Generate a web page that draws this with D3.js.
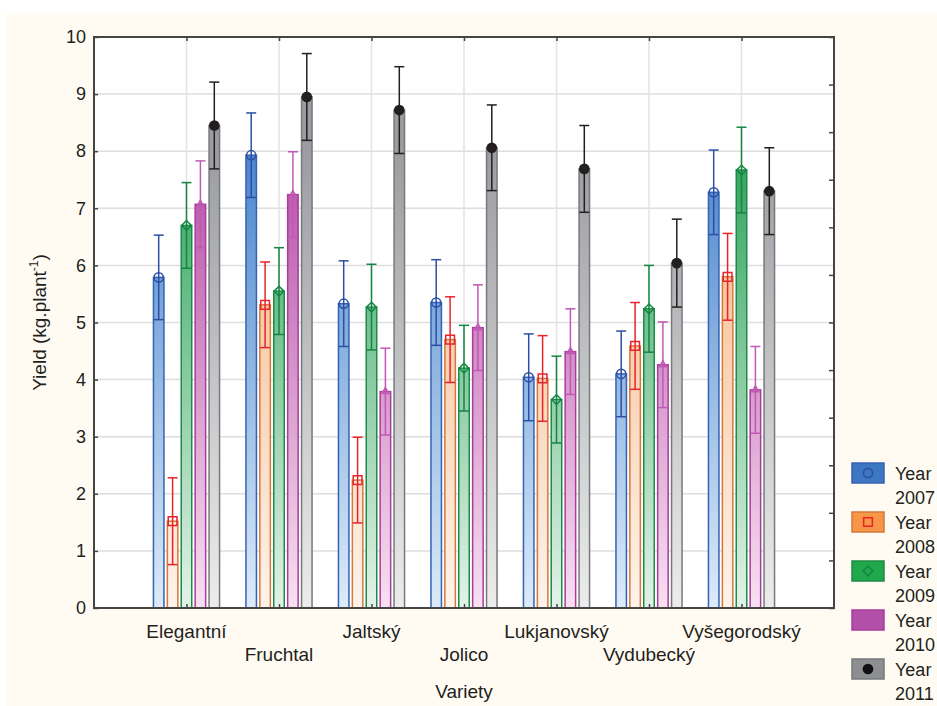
<!DOCTYPE html>
<html>
<head>
<meta charset="utf-8">
<script src="https://cdn.jsdelivr.net/npm/d3@7"></script>
<style>
  body { margin: 0; background: #fff; }
  svg text { font-family: "Liberation Sans", Arial, sans-serif; fill: #231f20; }
</style>
</head>
<body>
<div id="chart"></div>
<script>
// varieties and years
var varieties = ["Elegantní", "Fruchtal", "Jaltský", "Jolico", "Lukjanovský", "Vydubecký", "Vyšegorodský"];
var years = ["2007", "2008", "2009", "2010", "2011"];

// mean yield per variety, one array per year
var y2007 = [5.79, 7.93, 5.33, 5.35, 4.04, 4.10, 7.28];
var y2008 = [1.52, 5.31, 2.24, 4.70, 4.02, 4.59, 5.80];
var y2009 = [6.70, 5.55, 5.27, 4.20, 3.65, 5.24, 7.67];
var y2010 = [7.07, 7.24, 3.79, 4.91, 4.49, 4.26, 3.82];
var y2011 = [8.45, 8.95, 8.72, 8.06, 7.69, 6.04, 7.30];

// half-width of the error whiskers
var e2007 = [0.74, 0.74, 0.75, 0.75, 0.76, 0.75, 0.74];
var e2008 = [0.76, 0.75, 0.75, 0.75, 0.75, 0.76, 0.76];
var e2009 = [0.75, 0.76, 0.75, 0.75, 0.76, 0.76, 0.75];
var e2010 = [0.76, 0.75, 0.76, 0.75, 0.75, 0.75, 0.76];
var e2011 = [0.76, 0.76, 0.76, 0.75, 0.76, 0.77, 0.76];

var yTicks = [0, 1, 2, 3, 4, 5, 6, 7, 8, 9, 10];

var series = [
    {year: "2007", values: y2007, err: e2007,
     fill: "#3d77c2", stroke: "#3562b4", top: "#4a86cc", bottom: "#dcebf9", line: "#2c4ea6", marker: "circle"},
    {year: "2008", values: y2008, err: e2008,
     fill: "#f79646", stroke: "#d27a3e", top: "#f7b482", bottom: "#fef3ea", line: "#e8232a", marker: "square"},
    {year: "2009", values: y2009, err: e2009,
     fill: "#22a84c", stroke: "#1f8a48", top: "#2fa35c", bottom: "#e3f3e8", line: "#128640", marker: "diamond"},
    {year: "2010", values: y2010, err: e2010,
     fill: "#b24fa6", stroke: "#a93d9c", top: "#b64ea6", bottom: "#f8e0f1", line: "#c257b5", marker: "triangle"},
    {year: "2011", values: y2011, err: e2011,
     fill: "#8d8e92", stroke: "#77797c", top: "#9c9da1", bottom: "#ececec", line: "#231f20", marker: "dot"}
];

var width = 937, height = 706;
var pL = 94, pR = 834, pT = 37, pB = 608;

var svg = d3.select("#chart")
    .append("svg")
    .attr("width", width)
    .attr("height", height);

svg.append("rect")
    .attr("x", 7).attr("y", 13)
    .attr("width", width - 7).attr("height", height - 13)
    .attr("fill", "#fffbf3");

svg.append("rect")
    .attr("x", pL).attr("y", pT)
    .attr("width", pR - pL).attr("height", pB - pT)
    .attr("fill", "#fff");

var x = d3.scalePoint().domain(varieties).range([pL, pR]).padding(1);
var y = d3.scaleLinear().domain([0, 10]).range([pB, pT]);
var inner = d3.scaleBand().domain(years).range([-34.75, 34.75])
    .paddingInner(0.245).paddingOuter(0.1225);
var yRight = d3.scaleLinear().domain([0, 12]).range([pB, pT]);

// gradients
var defs = svg.append("defs");
series.forEach(function (s) {
    var g = defs.append("linearGradient")
        .attr("id", "grad" + s.year)
        .attr("gradientUnits", "userSpaceOnUse")
        .attr("x1", 0).attr("x2", 0)
        .attr("y1", y(0)).attr("y2", y(8));
    g.append("stop").attr("offset", "0%").attr("stop-color", s.bottom);
    g.append("stop").attr("offset", "100%").attr("stop-color", s.top);
});

// grid
svg.append("g")
    .selectAll("line")
    .data(yTicks.slice(1, -1))
    .enter()
    .append("line")
    .attr("x1", pL).attr("x2", pR)
    .attr("y1", function (d) { return y(d); })
    .attr("y2", function (d) { return y(d); })
    .attr("stroke", "#dedede")
    .attr("stroke-width", 1.5);

svg.append("g")
    .selectAll("line")
    .data(varieties)
    .enter()
    .append("line")
    .attr("x1", function (d) { return x(d); })
    .attr("x2", function (d) { return x(d); })
    .attr("y1", pT).attr("y2", pB)
    .attr("stroke", "#e3e3e3")
    .attr("stroke-width", 1.5);

// bars
var groups = svg.selectAll(".series")
    .data(series)
    .enter()
    .append("g")
    .attr("class", "series");

function rows(s) {
    return s.values.map(function (v, i) { return {s: s, v: v, e: s.err[i], cat: varieties[i]}; });
}

groups.selectAll("rect")
    .data(rows)
    .enter()
    .append("rect")
    .attr("x", function (d) { return x(d.cat) + inner(d.s.year); })
    .attr("y", function (d) { return y(d.v); })
    .attr("width", inner.bandwidth())
    .attr("height", function (d) { return y(0) - y(d.v); })
    .attr("fill", function (d) { return "url(#grad" + d.s.year + ")"; })
    .attr("stroke", function (d) { return d.s.stroke; })
    .attr("stroke-width", 1.5);

// error whiskers
var whisk = groups.selectAll(".err")
    .data(rows)
    .enter()
    .append("g")
    .attr("class", "err")
    .attr("transform", function (d) {
        return "translate(" + (x(d.cat) + inner(d.s.year) + inner.bandwidth() / 2) + ",0)";
    })
    .attr("stroke", function (d) { return d.s.line; })
    .attr("stroke-width", 1.5);

whisk.append("line")
    .attr("x1", 0).attr("x2", 0)
    .attr("y1", function (d) { return y(d.v + d.e); })
    .attr("y2", function (d) { return y(d.v - d.e); });
whisk.append("line")
    .attr("x1", -5).attr("x2", 5)
    .attr("y1", function (d) { return y(d.v + d.e); })
    .attr("y2", function (d) { return y(d.v + d.e); });
whisk.append("line")
    .attr("x1", -5).attr("x2", 5)
    .attr("y1", function (d) { return y(d.v - d.e); })
    .attr("y2", function (d) { return y(d.v - d.e); });

var symbols = {
    circle: d3.symbol().type(d3.symbolCircle).size(66)(),
    square: d3.symbol().type(d3.symbolSquare).size(76)(),
    diamond: d3.symbol().type(d3.symbolDiamond2).size(60)(),
    triangle: d3.symbol().type(d3.symbolTriangle2).size(34)(),
    dot: d3.symbol().type(d3.symbolCircle).size(90)()
};

whisk.append("path")
    .attr("d", function (d) { return symbols[d.s.marker]; })
    .attr("transform", function (d) { return "translate(0," + y(d.v) + ")"; })
    .attr("fill", function (d) { return d.s.marker == "dot" ? "#231f20" : "none"; })
    .attr("stroke-width", function (d) { return d.s.marker == "dot" ? 0 : 1.5; });

// frame and ticks
var frame = "#454545";
svg.append("rect")
    .attr("x", pL).attr("y", pT)
    .attr("width", pR - pL).attr("height", pB - pT)
    .attr("fill", "none")
    .attr("stroke", frame)
    .attr("stroke-width", 2);

var leftAxis = svg.append("g")
    .attr("transform", "translate(" + pL + ",0)")
    .call(d3.axisLeft(y).tickValues(yTicks).tickSize(-4).tickPadding(8));
leftAxis.select(".domain").remove();
leftAxis.selectAll("line").attr("stroke", frame).attr("stroke-width", 1.5);
leftAxis.selectAll("text").style("font-size", "18px").attr("fill", "#231f20");

var rightAxis = svg.append("g")
    .attr("transform", "translate(" + pR + ",0)")
    .call(d3.axisRight(yRight).ticks(12).tickSize(-5).tickFormat(""));
rightAxis.select(".domain").remove();
rightAxis.selectAll("line").attr("stroke", frame).attr("stroke-width", 1.5);

var topAxis = svg.append("g")
    .attr("transform", "translate(0," + pT + ")")
    .call(d3.axisTop(x).tickSize(-4).tickFormat(""));
topAxis.select(".domain").remove();
topAxis.selectAll("line").attr("stroke", frame).attr("stroke-width", 1.5);

var bottomAxis = svg.append("g")
    .attr("transform", "translate(0," + pB + ")")
    .call(d3.axisBottom(x).tickSize(-4).tickFormat(""));
bottomAxis.select(".domain").remove();
bottomAxis.selectAll("line").attr("stroke", frame).attr("stroke-width", 1.5);

// staggered category labels
svg.append("g")
    .selectAll("text")
    .data(varieties)
    .enter()
    .append("text")
    .attr("x", function (d) { return x(d); })
    .attr("y", function (d, i) { return i % 2 == 0 ? 638 : 661; })
    .attr("text-anchor", "middle")
    .style("font-size", "19px")
    .text(function (d) { return d; });

svg.append("text")
    .attr("x", (pL + pR) / 2)
    .attr("y", 698)
    .attr("text-anchor", "middle")
    .style("font-size", "19px")
    .text("Variety");

var yTitle = svg.append("text")
    .attr("transform", "translate(46," + ((pT + pB) / 2) + ") rotate(-90)")
    .attr("text-anchor", "middle")
    .style("font-size", "19px");
yTitle.append("tspan").text("Yield (kg.plant");
yTitle.append("tspan").attr("dy", -8).style("font-size", "12px").text("-1");
yTitle.append("tspan").attr("dy", 8).text(")");

// legend
var legend = svg.selectAll(".legend")
    .data(series)
    .enter()
    .append("g")
    .attr("class", "legend")
    .attr("transform", function (d, i) { return "translate(852," + (463 + i * 49) + ")"; });

legend.append("rect")
    .attr("width", 32).attr("height", 20)
    .attr("fill", function (d) { return d.fill; })
    .attr("stroke", function (d) { return d.stroke; })
    .attr("stroke-width", 1.5);

legend.filter(function (d) { return d.marker != "triangle"; })
    .append("path")
    .attr("transform", "translate(16,10)")
    .attr("d", function (d) { return symbols[d.marker]; })
    .attr("fill", function (d) { return d.marker == "dot" ? "#111" : "none"; })
    .attr("stroke", function (d) { return d.line; })
    .attr("stroke-width", function (d) { return d.marker == "dot" ? 0 : 1.5; });

legend.append("text")
    .attr("x", 43).attr("y", 17)
    .style("font-size", "18px")
    .text("Year");
legend.append("text")
    .attr("x", 43).attr("y", 41)
    .style("font-size", "18px")
    .text(function (d) { return d.year; });
</script>
</body>
</html>
